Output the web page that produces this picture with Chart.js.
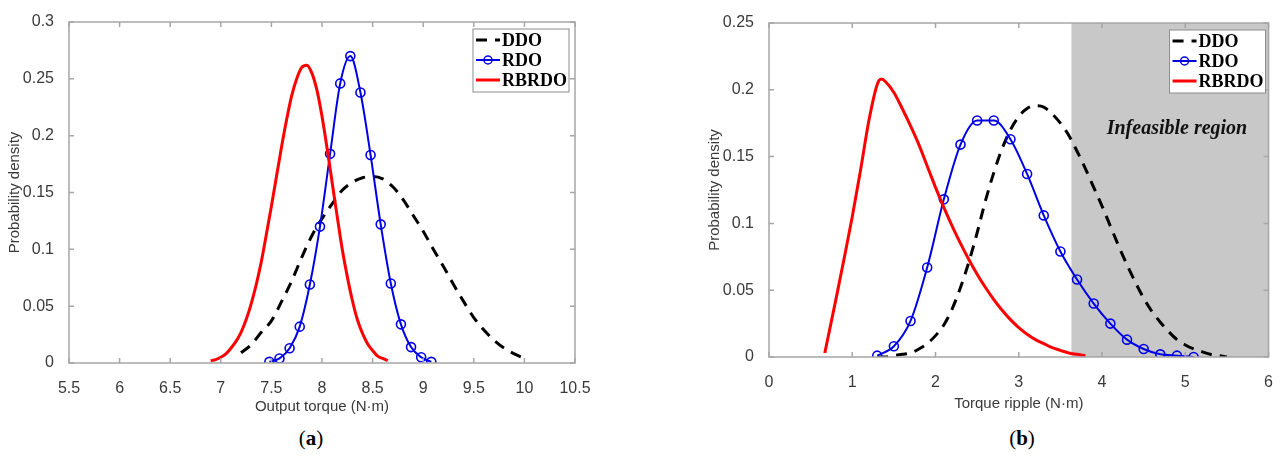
<!DOCTYPE html>
<html>
<head>
<meta charset="utf-8">
<script src="https://cdn.jsdelivr.net/npm/chart.js@4"></script>
<style>
  body { margin: 0; background: #fff; width: 1281px; height: 459px; position: relative; overflow: hidden; }
  .box { position: absolute; top: 0; height: 420px; }
  .cap { position: absolute; top: 426px; font: 21px "Liberation Serif", serif; color: #000; transform: translateX(-50%); }
  .cap b { font-weight: bold; }
</style>
</head>
<body>
<div class="box" style="left:0;width:600px"><canvas id="chartA"></canvas></div>
<div class="box" style="left:700px;width:581px"><canvas id="chartB"></canvas></div>
<div class="cap" style="left:311px">(<b>a</b>)</div>
<div class="cap" style="left:1022px">(<b>b</b>)</div>
<script>
// (a) output torque
const ddoTorqueX = [7.2, 7.3, 7.4, 7.5, 7.6, 7.7, 7.8, 7.9, 8.0, 8.1, 8.2, 8.3, 8.4, 8.5, 8.6, 8.7, 8.8, 8.9, 9.0, 9.1, 9.2, 9.3, 9.4, 9.5, 9.6, 9.7, 9.8, 9.9, 10.0];
const ddoTorqueY = [0.009, 0.016, 0.027, 0.037, 0.054, 0.072, 0.093, 0.112, 0.127, 0.140, 0.152, 0.159, 0.163, 0.164, 0.162, 0.155, 0.144, 0.130, 0.116, 0.100, 0.085, 0.069, 0.054, 0.040, 0.029, 0.020, 0.013, 0.008, 0.004];
const rdoTorqueX = [7.48, 7.58, 7.68, 7.78, 7.88, 7.98, 8.08, 8.18, 8.28, 8.38, 8.48, 8.58, 8.68, 8.78, 8.88, 8.98, 9.08];
const rdoTorqueY = [0.001, 0.004, 0.013, 0.032, 0.069, 0.120, 0.184, 0.246, 0.270, 0.238, 0.183, 0.122, 0.070, 0.034, 0.014, 0.005, 0.001];
const rbrdoTorqueX = [6.9, 6.95, 7.0, 7.05, 7.1, 7.15, 7.2, 7.25, 7.3, 7.35, 7.4, 7.45, 7.5, 7.55, 7.6, 7.65, 7.7, 7.75, 7.8, 7.85, 7.9, 7.95, 8.0, 8.05, 8.1, 8.15, 8.2, 8.25, 8.3, 8.35, 8.4, 8.45, 8.5, 8.55, 8.6, 8.65];
const rbrdoTorqueY = [0.002, 0.003, 0.005, 0.008, 0.013, 0.019, 0.027, 0.038, 0.052, 0.069, 0.089, 0.113, 0.138, 0.164, 0.190, 0.214, 0.235, 0.250, 0.260, 0.262, 0.255, 0.240, 0.217, 0.189, 0.159, 0.129, 0.100, 0.076, 0.055, 0.038, 0.026, 0.017, 0.011, 0.006, 0.004, 0.002];

// (b) torque ripple
const ddoRippleX = [1.3, 1.4, 1.5, 1.6, 1.7, 1.8, 1.9, 2.0, 2.1, 2.2, 2.3, 2.4, 2.5, 2.6, 2.7, 2.8, 2.9, 3.0, 3.1, 3.2, 3.3, 3.4, 3.5, 3.6, 3.7, 3.8, 3.9, 4.0, 4.1, 4.2, 4.3, 4.4, 4.5, 4.6, 4.7, 4.8, 4.9, 5.0, 5.1, 5.2, 5.3, 5.4, 5.5];
const ddoRippleY = [0.000, 0.000, 0.001, 0.002, 0.003, 0.006, 0.010, 0.016, 0.024, 0.036, 0.052, 0.071, 0.093, 0.117, 0.138, 0.156, 0.170, 0.180, 0.186, 0.188, 0.187, 0.182, 0.175, 0.166, 0.154, 0.141, 0.127, 0.113, 0.098, 0.083, 0.069, 0.056, 0.044, 0.034, 0.026, 0.019, 0.013, 0.009, 0.006, 0.004, 0.002, 0.001, 0.000];
const rdoRippleX = [1.3, 1.5, 1.7, 1.9, 2.1, 2.3, 2.5, 2.7, 2.9, 3.1, 3.3, 3.5, 3.7, 3.9, 4.1, 4.3, 4.5, 4.7, 4.9, 5.1];
const rdoRippleY = [0.001, 0.008, 0.027, 0.067, 0.118, 0.159, 0.177, 0.177, 0.163, 0.137, 0.106, 0.079, 0.058, 0.040, 0.025, 0.013, 0.006, 0.002, 0.001, 0.000];
const rbrdoRippleX = [0.67, 0.7, 0.8, 0.9, 1.0, 1.1, 1.2, 1.3, 1.35, 1.4, 1.5, 1.6, 1.7, 1.8, 1.9, 2.0, 2.1, 2.2, 2.3, 2.4, 2.5, 2.6, 2.7, 2.8, 2.9, 3.0, 3.1, 3.2, 3.3, 3.4, 3.5, 3.6, 3.7, 3.8];
const rbrdoRippleY = [0.003, 0.012, 0.042, 0.073, 0.105, 0.140, 0.177, 0.204, 0.208, 0.206, 0.198, 0.186, 0.173, 0.159, 0.143, 0.127, 0.112, 0.098, 0.085, 0.073, 0.062, 0.052, 0.043, 0.035, 0.028, 0.022, 0.017, 0.013, 0.010, 0.007, 0.005, 0.003, 0.002, 0.001];
const infeasibleX = [3.63, 6];

const zip = (xs, ys) => xs.map((x, i) => ({ x: x, y: ys[i] }));
const tickFont = { family: "'Liberation Sans', Arial, sans-serif", size: 16 };
const titleFont = { family: "'Liberation Sans', Arial, sans-serif", size: 15 };
const grey = "#3a3a3a";

// MATLAB-like box with inward ticks plus a boxed legend in the upper right
const frame = {
  id: "frame",
  afterDraw(chart) {
    const c = chart.ctx, a = chart.chartArea;
    const xs = chart.scales.x, ys = chart.scales.y;
    c.save();
    c.strokeStyle = "#a6a6a6";
    c.lineWidth = 1.5;
    c.strokeRect(a.left, a.top, a.right - a.left, a.bottom - a.top);
    c.beginPath();
    xs.ticks.forEach(t => {
      const px = xs.getPixelForValue(t.value);
      c.moveTo(px, a.bottom); c.lineTo(px, a.bottom - 5);
      c.moveTo(px, a.top); c.lineTo(px, a.top + 5);
    });
    ys.ticks.forEach(t => {
      const py = ys.getPixelForValue(t.value);
      c.moveTo(a.left, py); c.lineTo(a.left + 5, py);
      c.moveTo(a.right, py); c.lineTo(a.right - 5, py);
    });
    c.stroke();

    const lg = chart.options.plugins.frame;
    const items = chart.data.datasets.filter(d => d.label);
    const bx = a.right - lg.right - lg.width, by = a.top + 7;
    c.fillStyle = "#fff";
    c.fillRect(bx, by, lg.width, 63);
    c.strokeStyle = "#8c8c8c";
    c.lineWidth = 1;
    c.strokeRect(bx, by, lg.width, 63);
    c.font = "bold 18px 'Liberation Serif', 'Times New Roman', serif";
    c.textBaseline = "middle";
    items.forEach((d, i) => {
      const y = by + 11 + i * 20;
      c.strokeStyle = d.borderColor;
      c.lineWidth = d.borderWidth;
      c.setLineDash(d.borderDash || []);
      c.beginPath(); c.moveTo(bx + 3, y); c.lineTo(bx + 27, y); c.stroke();
      c.setLineDash([]);
      if (d.pointRadius) {
        c.lineWidth = 1.5;
        c.beginPath(); c.arc(bx + 15, y, 4, 0, Math.PI * 2); c.stroke();
      }
      c.fillStyle = "#000";
      c.fillText(d.label, bx + 29, y + 1);
    });
    c.restore();
  }
};

function lines(ddo, rdo, rbrdo) {
  return [
    { label: "DDO", data: ddo, borderColor: "#000", borderWidth: 3, borderDash: [11, 8], pointRadius: 0, order: 2 },
    { label: "RDO", data: rdo, borderColor: "#0000e6", borderWidth: 2, pointRadius: 4.5, pointBorderWidth: 1.6,
      pointBackgroundColor: "rgba(0,0,0,0)", pointBorderColor: "#0000e6", order: 1 },
    { label: "RBRDO", data: rbrdo, borderColor: "#ff0000", borderWidth: 3, pointRadius: 0, order: 0 }
  ];
}

function options(xmin, xmax, xstep, ymax, xTitle, pad, xHeight, xTitlePad, legendRight) {
  return {
    responsive: true,
    maintainAspectRatio: false,
    animation: false,
    layout: { padding: pad },
    plugins: { legend: { display: false }, tooltip: { enabled: false },
      frame: { width: 96, right: legendRight } },
    elements: { line: { cubicInterpolationMode: "monotone" } },
    scales: {
      x: {
        type: "linear", min: xmin, max: xmax,
        ticks: { stepSize: xstep, color: grey, font: tickFont, padding: 8, maxRotation: 0,
          callback: v => String(Math.round(v * 10) / 10) },
        grid: { display: false },
        border: { display: false },
        title: { display: true, text: xTitle, color: grey, font: titleFont, padding: { top: 0, bottom: xTitlePad } },
        afterFit: s => { s.height = xHeight; }
      },
      y: {
        min: 0, max: ymax,
        ticks: { stepSize: 0.05, color: grey, font: tickFont, padding: 7,
          callback: v => String(Math.round(v * 100) / 100) },
        grid: { display: false },
        border: { display: false },
        title: { display: true, text: "Probability density", color: grey, font: titleFont, padding: { top: 6, bottom: 0 } },
        afterFit: s => { s.width = 69; }
      }
    }
  };
}

new Chart(document.getElementById("chartA"), {
  type: "line",
  data: { datasets: lines(zip(ddoTorqueX, ddoTorqueY), zip(rdoTorqueX, rdoTorqueY), zip(rbrdoTorqueX, rbrdoTorqueY)) },
  options: options(5.5, 10.5, 0.5, 0.3, "Output torque (N\u00b7m)", { top: 22, right: 25, left: 0, bottom: 0 }, 57, 4, 6),
  plugins: [frame]
});

new Chart(document.getElementById("chartB"), {
  type: "line",
  data: { datasets: lines(zip(ddoRippleX, ddoRippleY), zip(rdoRippleX, rdoRippleY), zip(rbrdoRippleX, rbrdoRippleY)).concat([
    { data: zip(infeasibleX, [0.25, 0.25]), fill: "origin", backgroundColor: "#c8c8c8", borderWidth: 0, pointRadius: 0, order: 10 }
  ]) },
  options: options(0, 6, 1, 0.25, "Torque ripple (N\u00b7m)", { top: 23, right: 11, left: 0, bottom: 0 }, 63, 7, 3),
  plugins: [frame, {
    id: "regionLabel",
    afterDatasetsDraw(chart) {
      const c = chart.ctx, xs = chart.scales.x, ys = chart.scales.y;
      c.save();
      c.font = "italic bold 20px 'Liberation Serif', 'Times New Roman', serif";
      c.fillStyle = "#111";
      c.textAlign = "center";
      c.textBaseline = "middle";
      c.fillText("Infeasible region", xs.getPixelForValue(4.9), ys.getPixelForValue(0.171));
      c.restore();
    }
  }]
});
</script>
</body>
</html>
